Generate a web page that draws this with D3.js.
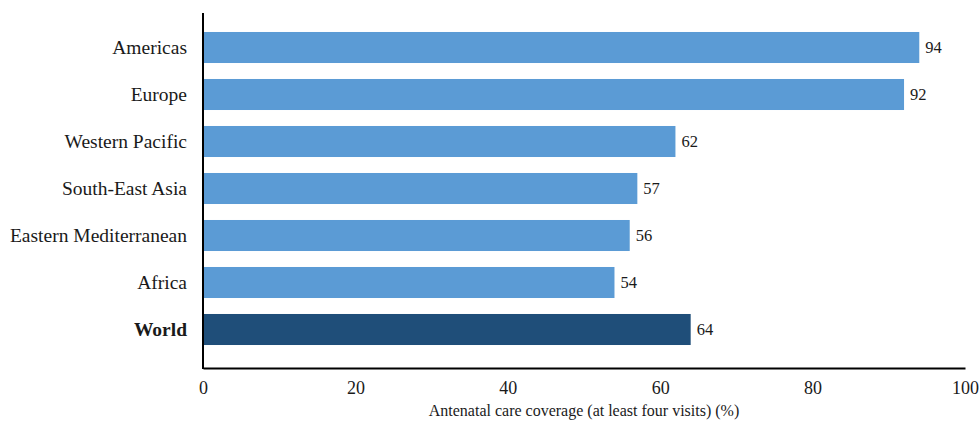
<!DOCTYPE html>
<html><head><meta charset="utf-8">
<script src="https://cdn.jsdelivr.net/npm/d3@7"></script>
<style>body{margin:0;background:#fff}svg{display:block}</style>
</head><body><svg id="c" width="979" height="421"></svg>
<script>
const categories = ["Americas","Europe","Western Pacific","South-East Asia","Eastern Mediterranean","Africa","World"];
const values = [94,92,62,57,56,54,64];
const xTicks = [0,20,40,60,80,100];
const xTitle = "Antenatal care coverage (at least four visits) (%)";

const FONT = '"Liberation Serif", "Times New Roman", serif';
const INK = "#1a1a1a";
const svg = d3.select("#c");
const left = 203, right = 965, axisY = 368;
const x = d3.scaleLinear().domain([0,100]).range([left,right]);
const y = d3.scaleBand().domain(categories).range([24,353]).paddingInner(0.34).paddingOuter(0.17);

svg.selectAll("rect.bar").data(categories).join("rect").attr("class","bar")
  .attr("x", x(0)).attr("y", d=>y(d)).attr("height", y.bandwidth())
  .attr("width", (d,i)=>x(values[i])-x(0))
  .attr("fill", d=> d==="World" ? "#1f4e79" : "#5b9bd5");

svg.selectAll("text.val").data(categories).join("text").attr("class","val")
  .attr("x", (d,i)=>x(values[i])+6).attr("y", d=>y(d)+y.bandwidth()/2)
  .attr("dy","0.35em")
  .style("font-family",FONT).style("font-size","16.5px").style("fill",INK)
  .text((d,i)=>values[i]);

svg.selectAll("text.cat").data(categories).join("text").attr("class","cat")
  .attr("x", 187).attr("y", d=>y(d)+y.bandwidth()/2)
  .attr("dy","0.35em").attr("text-anchor","end")
  .style("font-family",FONT).style("font-size","19.5px").style("fill",INK)
  .style("font-weight", d=> d==="World" ? "bold" : "normal").text(d=>d);

const xa = svg.append("g").attr("transform",`translate(0,${axisY})`)
  .call(d3.axisBottom(x).tickValues(xTicks).tickSize(0).tickPadding(13));
xa.attr("font-family",FONT);
xa.select(".domain").attr("stroke","#000").attr("stroke-width",2);
xa.selectAll("text").style("font-family",FONT).style("font-size","18px").style("fill",INK);

svg.append("line").attr("x1",left).attr("x2",left).attr("y1",13).attr("y2",axisY+1)
  .attr("stroke","#000").attr("stroke-width",2);

svg.append("text").attr("x",(left+right)/2).attr("y",416).attr("text-anchor","middle")
  .style("font-family",FONT).style("font-size","16px").style("fill",INK).text(xTitle);
</script></body></html>
